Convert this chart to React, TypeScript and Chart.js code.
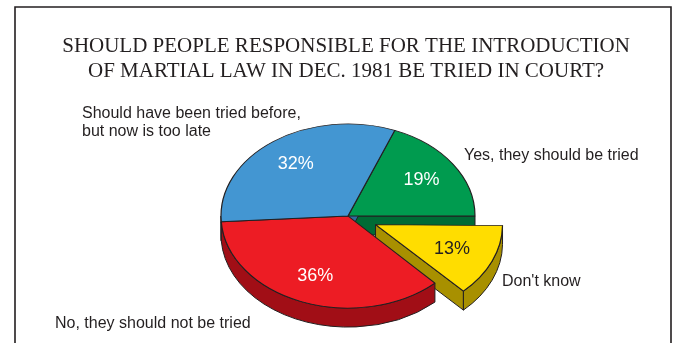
import React, { useEffect, useRef } from "react";
import { Chart, registerables } from "chart.js";

Chart.register(...registerables);

// ---- data ----
const TITLE_LINES = [
  "SHOULD PEOPLE RESPONSIBLE FOR THE INTRODUCTION",
  "OF MARTIAL LAW IN DEC. 1981 BE TRIED IN COURT?",
];
const CATEGORIES = [
  ["Yes, they should be tried"],
  ["Don't know"],
  ["No, they should not be tried"],
  ["Should have been tried before,", "but now is too late"],
];
const VALUES = [19, 13, 36, 32];

// ---- styles / layout ----
const TOP_COLORS = ["#009B4F", "#FFDD00", "#ED1C24", "#4396D2"];
const SIDE_COLORS = ["#006B35", "#A89000", "#A10E16", "#2C6C9E"];
const PCT_COLORS = ["#FFFFFF", "#231F20", "#FFFFFF", "#FFFFFF"];
const EXPLODE = [0, 120, 0, 0]; // chart.js offset (drawn at offset/4 px)
const LABEL_POS = [
  [464, 160],
  [502, 286],
  [55, 328],
  [82, 118],
];
const LABEL_LINE_H = 18;
const TILT = 0.725;
const DEPTH = 19;
const RADIUS = 127;
const INK = "#231F20";

function geom(el: any) {
  const off = (el.options.offset || 0) / 4;
  const s = el.startAngle;
  const e = el.endAngle;
  const mid = (s + e) / 2;
  const circ = e - s;
  const fix = 1 - Math.sin(Math.min(Math.PI, circ));
  const rOff = off * fix;
  const R = el.outerRadius + rOff;
  let a0 = s;
  let a1 = e;
  if (off) {
    const beta = Math.max(0.001, circ * R - rOff / Math.PI) / R;
    const ao = (circ - beta) / 2;
    a0 = s + ao;
    a1 = e - ao;
  }
  const cx = el.x + Math.cos(mid) * off;
  const cy = el.y + Math.sin(mid) * off * TILT;
  return { cx, cy, R, a0, a1, mid, off, baseR: el.outerRadius };
}

const pie3d = {
  id: "pie3d",
  afterDatasetUpdate(chart: any) {
    const meta = chart.getDatasetMeta(0);
    const baseR = meta.controller.outerRadius;
    meta.data.forEach((el: any) => {
      const off = (el.options.offset || 0) / 4;
      if (off) {
        const circ = el.endAngle - el.startAngle;
        const fix = 1 - Math.sin(Math.min(Math.PI, circ));
        el.outerRadius = baseR - off * fix;
      }
    });
  },
  beforeDatasetsDraw(chart: any) {
    const ctx = chart.ctx as CanvasRenderingContext2D;
    const meta = chart.getDatasetMeta(0);
    const gs = meta.data.map((el: any) => geom(el));
    ctx.save();
    ctx.lineWidth = 1;
    ctx.strokeStyle = INK;
    ctx.lineJoin = "round";

    // phase 1: visible radial faces (non-exploded first)
    const order = gs
      .map((g: any, i: number) => i)
      .sort((a: number, b: number) => (gs[a].off ? 1 : 0) - (gs[b].off ? 1 : 0));
    order.forEach((i: number) => {
      const g = gs[i];
      const faces: number[] = [];
      if (Math.sin(g.a0 - Math.PI / 2) > 0) faces.push(g.a0);
      if (Math.sin(g.a1 + Math.PI / 2) > 0) faces.push(g.a1);
      faces.forEach((phi) => {
        const px = g.cx + Math.cos(phi) * g.R;
        const py = g.cy + Math.sin(phi) * g.R * TILT;
        ctx.beginPath();
        ctx.moveTo(g.cx, g.cy);
        ctx.lineTo(px, py);
        ctx.lineTo(px, py + DEPTH);
        ctx.lineTo(g.cx, g.cy + DEPTH);
        ctx.closePath();
        ctx.fillStyle = SIDE_COLORS[i];
        ctx.fill();
        ctx.stroke();
      });
    });

    // phase 2: outer walls (front half only)
    order
      .slice()
      .reverse()
      .forEach((i: number) => {
        const g = gs[i];
        for (let n = -3; n <= 3; n++) {
          const f0 = n * 2 * Math.PI;
          const f1 = f0 + Math.PI;
          const b0 = Math.max(g.a0, f0);
          const b1 = Math.min(g.a1, f1);
          if (b1 - b0 > 0.0005) {
            ctx.beginPath();
            ctx.ellipse(g.cx, g.cy, g.R, g.R * TILT, 0, b0, b1, false);
            ctx.ellipse(g.cx, g.cy + DEPTH, g.R, g.R * TILT, 0, b1, b0, true);
            ctx.closePath();
            ctx.fillStyle = SIDE_COLORS[i];
            ctx.fill();
            ctx.stroke();
          }
        }
      });
    ctx.restore();

    // tilt the tops drawn by Chart.js
    const cy0 = meta.data[0].y;
    ctx.save();
    ctx.translate(0, cy0);
    ctx.scale(1, TILT);
    ctx.translate(0, -cy0);
  },
  afterDatasetsDraw(chart: any) {
    const ctx = chart.ctx as CanvasRenderingContext2D;
    ctx.restore();
    const meta = chart.getDatasetMeta(0);

    ctx.save();
    // frame
    ctx.strokeStyle = INK;
    ctx.lineWidth = 1.6;
    ctx.beginPath();
    ctx.moveTo(15, 343);
    ctx.lineTo(15, 7);
    ctx.lineTo(671, 7);
    ctx.lineTo(671, 343);
    ctx.stroke();

    // title
    ctx.fillStyle = INK;
    ctx.font = "21px 'Liberation Serif', 'Times New Roman', serif";
    ctx.textAlign = "center";
    ctx.textBaseline = "alphabetic";
    TITLE_LINES.forEach((t, i) => ctx.fillText(t, 346, 52 + i * 25));

    // percentages
    ctx.font = "18px 'Liberation Sans', Arial, sans-serif";
    ctx.textBaseline = "middle";
    meta.data.forEach((el: any, i: number) => {
      const g = geom(el);
      const x = g.cx + Math.cos(g.mid) * g.baseR * 0.7;
      const y = g.cy + Math.sin(g.mid) * g.baseR * 0.7 * TILT;
      ctx.fillStyle = PCT_COLORS[i];
      ctx.fillText(VALUES[i] + "%", x, y);
    });

    // category labels
    ctx.fillStyle = INK;
    ctx.font = "16px 'Liberation Sans', Arial, sans-serif";
    ctx.textAlign = "left";
    ctx.textBaseline = "alphabetic";
    CATEGORIES.forEach((lines, i) => {
      lines.forEach((t, j) =>
        ctx.fillText(t, LABEL_POS[i][0], LABEL_POS[i][1] + j * LABEL_LINE_H)
      );
    });
    ctx.restore();
  },
};

export default function App() {
  const ref = useRef<HTMLCanvasElement | null>(null);
  useEffect(() => {
    if (!ref.current) return;
    const chart = new Chart(ref.current, {
      type: "pie",
      data: {
        labels: CATEGORIES.map((c) => c.join(" ")),
        datasets: [
          {
            data: VALUES,
            backgroundColor: TOP_COLORS,
            borderColor: INK,
            borderWidth: 1.2,
            offset: EXPLODE,
          } as any,
        ],
      },
      options: {
        responsive: false,
        animation: false,
        events: [],
        rotation: 21.6,
        radius: RADIUS,
        layout: { padding: { left: 22, right: 0, top: 89, bottom: 0 } },
        plugins: {
          legend: { display: false },
          tooltip: { enabled: false },
          title: { display: false },
        },
      } as any,
      plugins: [pie3d as any],
    });
    return () => chart.destroy();
  }, []);
  return (
    <div style={{ position: "absolute", left: 0, top: 0, width: 674, height: 343, background: "#fff" }}>
      <canvas ref={ref} width={674} height={343} />
    </div>
  );
}
